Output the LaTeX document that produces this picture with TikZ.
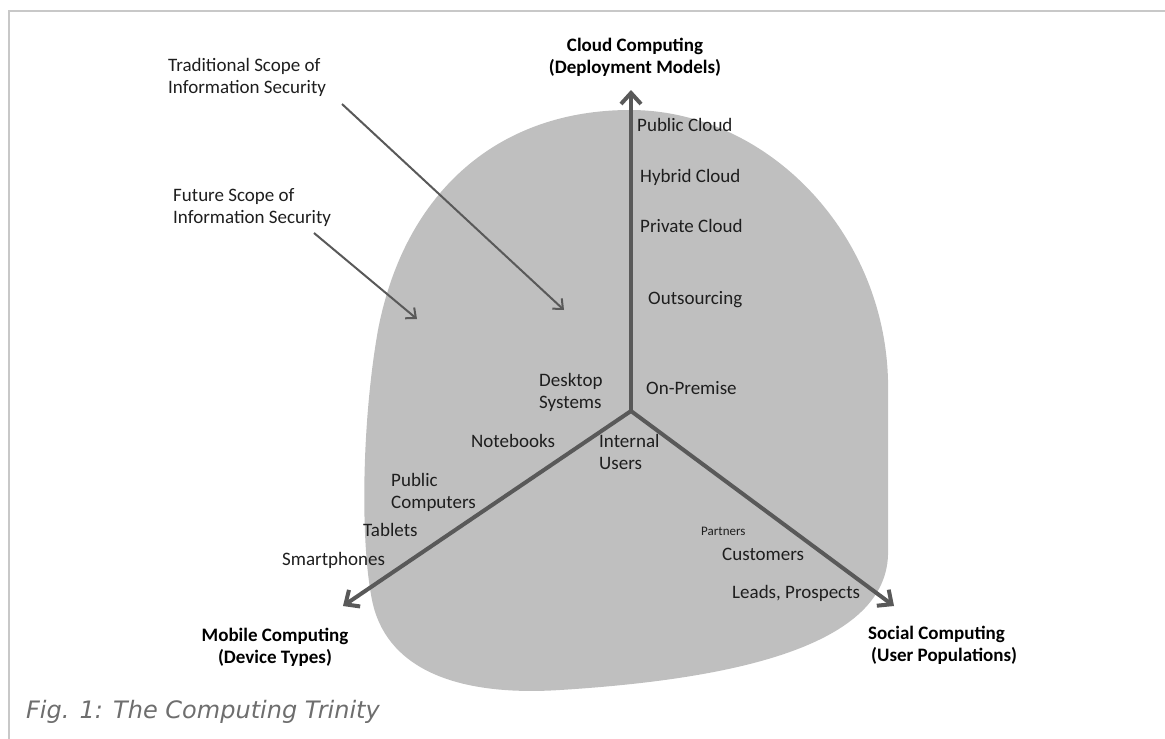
\documentclass[tikz,border=0pt]{standalone}
\usepackage{fontspec}
\setmainfont{Carlito}
\newfontfamily\captionfont{DejaVu Sans}
\usepackage{tikz}
\usetikzlibrary{arrows.meta, positioning}
\definecolor{blobgray}{HTML}{BFBFBF}
\definecolor{axisgray}{HTML}{595959}
\definecolor{framegray}{HTML}{C8C8C8}
\definecolor{capgray}{HTML}{6E6E6E}
\definecolor{inktext}{HTML}{1E1E1E}

\begin{document}
\begin{tikzpicture}[x=1pt, y=-1pt,
    item/.style={anchor=west, inner sep=0pt, align=left, text=inktext, font=\fontsize{19}{22}\selectfont},
    smallitem/.style={item, font=\fontsize{13}{15}\selectfont},
    axislabel/.style={inner sep=0pt, align=center, text=black, font=\bfseries\fontsize{19}{22}\selectfont},
    axis/.style={draw=axisgray, line width=4pt, -{Straight Barb[length=11pt, width=20pt]}},
    pointer/.style={draw=axisgray, line width=2pt, -{Straight Barb[length=8pt, width=14pt]}}]
    \useasboundingbox (0,0) rectangle (1165,739);
    \draw[framegray, line width=2pt] (9,739) |- (1165,11);

    \fill[blobgray] (630,110) .. controls (765,110) and (884,230) .. (888,380)
        -- (888,555) .. controls (885,650) and (720,680) .. (560,690)
        .. controls (450,697) and (385,665) .. (372,600)
        .. controls (360,540) and (362,420) .. (378,330)
        .. controls (405,190) and (500,110) .. (630,110) -- cycle;

    \coordinate (hub) at (631,411);
    \coordinate (cloudend) at (631,90);
    \coordinate (mobileend) at (343,606);
    \coordinate (socialend) at (894,606);
    \draw[axis] (hub) -- (cloudend);
    \draw[axis] (hub) -- (mobileend);
    \draw[axis] (hub) -- (socialend);

    \node[axislabel] (cloud) at (635,57) {Cloud Computing\\(Deployment Models)};
    \node[axislabel] (mobile) at (275,647) {Mobile Computing\\(Device Types)};
    \node[axislabel, anchor=west, align=left] (social) at (868,645) {Social Computing\\\hspace{3pt}(User Populations)};

    \node[item] (trad) at (168,77) {Traditional Scope of\\Information Security};
    \node[item] (future) at (173,208) {Future Scope of\\Information Security};
    \coordinate (tradfrom) at (342,104);
    \coordinate (tradto) at (564,310);
    \coordinate (futurefrom) at (314,233);
    \coordinate (futureto) at (417,319);
    \draw[pointer] (tradfrom) -- (tradto);
    \draw[pointer] (futurefrom) -- (futureto);

    \node[item] (pubcloud) at (637,125) {Public Cloud};
    \node[item] (hybcloud) at (640,177) {Hybrid Cloud};
    \node[item] (privcloud) at (640,226) {Private Cloud};
    \node[item] (outsourcing) at (648,300) {Outsourcing};
    \node[item] (onpremise) at (646,388) {On-Premise};

    \node[item] (desktop) at (539,392) {Desktop\\Systems};
    \node[item] (notebooks) at (471,441) {Notebooks};
    \node[item] (pubcomp) at (391,492) {Public\\Computers};
    \node[item] (tablets) at (363,530) {Tablets};
    \node[item] (smartphones) at (282,560) {Smartphones};

    \node[item] (internal) at (599,452) {Internal\\Users};
    \node[smallitem] (partners) at (701,531) {Partners};
    \node[item] (customers) at (722,554) {Customers};
    \node[item] (leads) at (732,593) {Leads, Prospects};

    \node[anchor=west, inner sep=0pt, text=capgray, font=\captionfont\itshape\fontsize{24}{27}\selectfont] (caption) at (26,712) {Fig. 1: The Computing Trinity};
\end{tikzpicture}
\end{document}
